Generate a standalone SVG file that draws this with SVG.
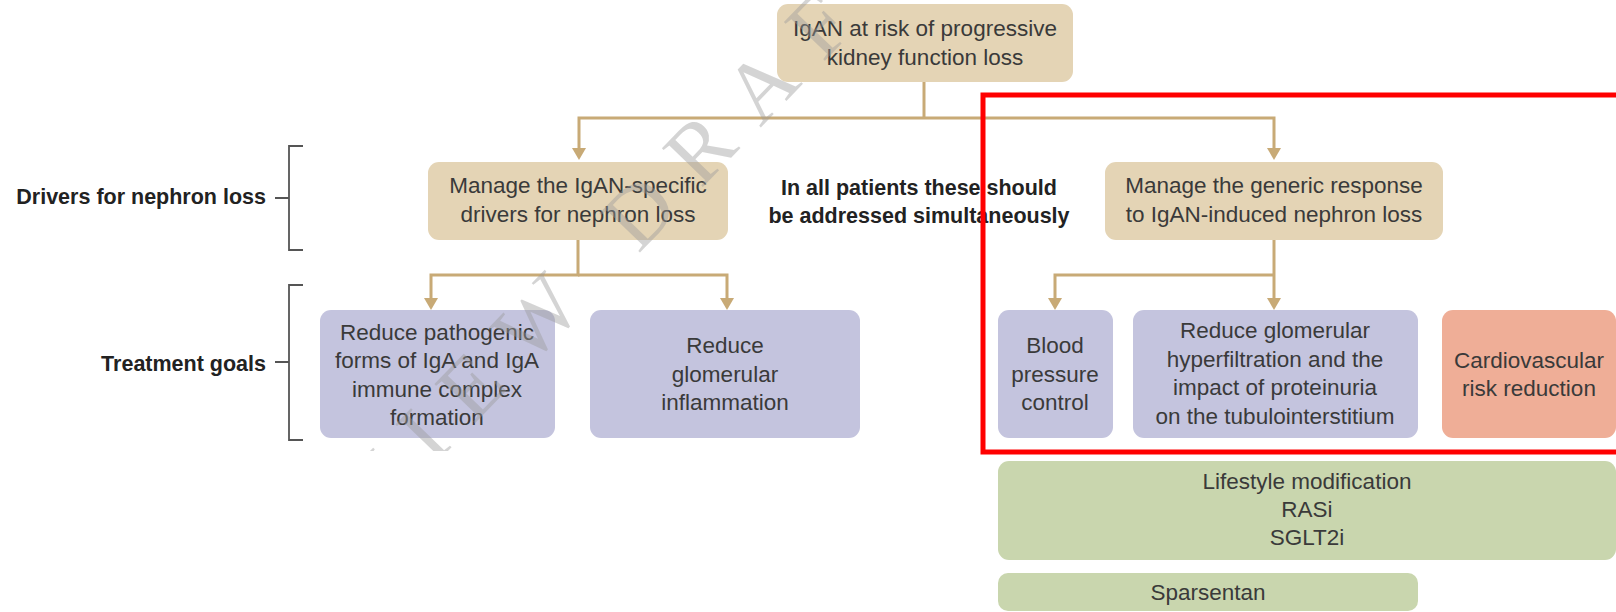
<svg xmlns="http://www.w3.org/2000/svg" width="1616" height="612" viewBox="0 0 1616 612">
  <style>
    .box text { font-family: "Liberation Sans", Arial, sans-serif; font-size: 22.5px; fill: #3a3a3a; text-anchor: middle; }
    .tan { fill: #e4d4b5; }
    .purple { fill: #c4c4de; }
    .salmon { fill: #efae97; }
    .green { fill: #c9d6ae; }
    .conn path { fill: none; stroke: #c8aa76; stroke-width: 3; }
    .label { font-family: "Liberation Sans", Arial, sans-serif; font-weight: bold; font-size: 21.5px; fill: #222; }
    .bracket { fill: none; stroke: #555; stroke-width: 1.8; }
    .watermark { font-family: "Liberation Serif", "Times New Roman", serif; font-size: 86px; letter-spacing: 28px; fill: #9b9b9b; opacity: 0.42; }
  </style>
  <defs>
    <marker id="arrow" markerUnits="userSpaceOnUse" viewBox="0 0 12 14" markerWidth="12" markerHeight="14" refX="6" refY="7" orient="auto">
      <path d="M0,0 L12,7 L0,14 z" fill="#c8aa76"/>
    </marker>
    <clipPath id="wmClip">
      <rect x="0" y="0" width="1616" height="451"/>
    </clipPath>
  </defs>

  <rect width="1616" height="612" fill="#ffffff"/>

  <!-- side labels with brackets -->
  <g id="label-drivers">
    <text class="label" x="266" y="204" text-anchor="end">Drivers for nephron loss</text>
    <path class="bracket" d="M303,146 H289 V250 H303 M275,198 H289"/>
  </g>
  <g id="label-goals">
    <text class="label" x="266" y="371" text-anchor="end">Treatment goals</text>
    <path class="bracket" d="M303,285 H289 V440 H303 M275,362 H289"/>
  </g>

  <!-- connectors -->
  <g id="connectors" class="conn">
    <path d="M924,82 V118"/>
    <path d="M924,118 H579 V154" marker-end="url(#arrow)"/>
    <path d="M924,118 H1274 V154" marker-end="url(#arrow)"/>
    <path d="M578,240 V275 H431 V304" marker-end="url(#arrow)"/>
    <path d="M578,275 H727 V304" marker-end="url(#arrow)"/>
    <path d="M1274,240 V304" marker-end="url(#arrow)"/>
    <path d="M1274,275 H1055 V304" marker-end="url(#arrow)"/>
  </g>

  <!-- nodes -->
  <g id="node-root" class="box">
    <rect class="tan" x="777" y="4" width="296" height="78" rx="11"/>
    <text x="925" y="36">IgAN at risk of progressive</text>
    <text x="925" y="65">kidney function loss</text>
  </g>

  <g id="node-specific" class="box">
    <rect class="tan" x="428" y="162" width="300" height="78" rx="11"/>
    <text x="578" y="193">Manage the IgAN-specific</text>
    <text x="578" y="222">drivers for nephron loss</text>
  </g>

  <g id="note-simultaneous">
    <text class="label" x="919" y="195" text-anchor="middle">In all patients these should</text>
    <text class="label" x="919" y="223" text-anchor="middle">be addressed simultaneously</text>
  </g>

  <g id="node-generic" class="box">
    <rect class="tan" x="1105" y="162" width="338" height="78" rx="11"/>
    <text x="1274" y="193">Manage the generic response</text>
    <text x="1274" y="222">to IgAN-induced nephron loss</text>
  </g>

  <g id="node-pathogenic" class="box">
    <rect class="purple" x="320" y="310" width="235" height="128" rx="11"/>
    <text x="437" y="340">Reduce pathogenic</text>
    <text x="437" y="368">forms of IgA and IgA</text>
    <text x="437" y="397">immune complex</text>
    <text x="437" y="425">formation</text>
  </g>

  <g id="node-inflammation" class="box">
    <rect class="purple" x="590" y="310" width="270" height="128" rx="11"/>
    <text x="725" y="353">Reduce</text>
    <text x="725" y="382">glomerular</text>
    <text x="725" y="410">inflammation</text>
  </g>

  <g id="node-bp" class="box">
    <rect class="purple" x="998" y="310" width="115" height="128" rx="11"/>
    <text x="1055" y="353">Blood</text>
    <text x="1055" y="382">pressure</text>
    <text x="1055" y="410">control</text>
  </g>

  <g id="node-hyperfiltration" class="box">
    <rect class="purple" x="1133" y="310" width="285" height="128" rx="11"/>
    <text x="1275" y="338">Reduce glomerular</text>
    <text x="1275" y="367">hyperfiltration and the</text>
    <text x="1275" y="395">impact of proteinuria</text>
    <text x="1275" y="424">on the tubulointerstitium</text>
  </g>

  <g id="node-cv" class="box">
    <rect class="salmon" x="1442" y="310" width="174" height="128" rx="11"/>
    <text x="1529" y="368">Cardiovascular</text>
    <text x="1529" y="396">risk reduction</text>
  </g>

  <!-- highlight frame -->
  <rect id="highlight" x="983" y="95" width="640" height="357" fill="none" stroke="#ff0000" stroke-width="5"/>

  <g id="node-therapies" class="box">
    <rect class="green" x="998" y="461" width="618" height="99" rx="11"/>
    <text x="1307" y="489">Lifestyle modification</text>
    <text x="1307" y="517">RASi</text>
    <text x="1307" y="545">SGLT2i</text>
  </g>

  <g id="node-sparsentan" class="box">
    <rect class="green" x="998" y="573" width="420" height="38" rx="10"/>
    <text x="1208" y="600">Sparsentan</text>
  </g>

  <!-- watermark -->
  <g clip-path="url(#wmClip)">
    <text class="watermark" x="256" y="650" transform="rotate(-46 256 650)">REVIEW DRAFT</text>
  </g>
</svg>
